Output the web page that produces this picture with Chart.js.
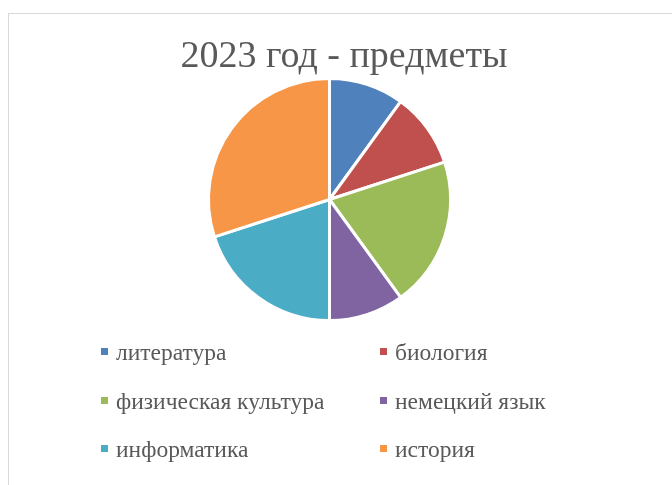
<!DOCTYPE html>
<html>
<head>
<meta charset="utf-8">
<script src="https://cdn.jsdelivr.net/npm/chart.js@4"></script>
<style>
  body { margin:0; background:#fff; width:672px; height:485px; overflow:hidden; position:relative; }
  #frame { position:absolute; left:8px; top:13px; right:-2px; bottom:-2px; border-left:1px solid #d9d9d9; border-top:1px solid #d9d9d9; }
  #chart { position:absolute; left:0; top:0; }
</style>
</head>
<body>
<div id="frame"></div>
<canvas id="chart" width="672" height="485"></canvas>
<script>
const chartTitle = "2023 год - предметы";
const subjects = ["литература", "биология", "физическая культура", "немецкий язык", "информатика", "история"];
const counts = [1, 1, 2, 1, 2, 3];
const colors = ["#4F81BD", "#C0504D", "#9BBB59", "#8064A2", "#4BACC6", "#F79646"];

const textColor = "#595959";
const serif = "'Liberation Serif', 'Times New Roman', serif";

// title + two-column legend, drawn on the canvas
const decor = {
  id: "decor",
  afterDraw(chart) {
    const ctx = chart.ctx;
    ctx.save();
    ctx.fillStyle = textColor;
    ctx.textAlign = "center";
    ctx.textBaseline = "alphabetic";
    ctx.font = "38px " + serif;
    ctx.fillText(chartTitle, 344, 67);

    ctx.textAlign = "left";
    ctx.font = "23.5px " + serif;
    chart.data.labels.forEach((s, i) => {
      const col = i % 2, row = Math.floor(i / 2);
      const x = col ? 395 : 116;
      const y = 360 + row * 48.5;
      ctx.fillStyle = chart.data.datasets[0].backgroundColor[i];
      ctx.fillRect(x - 15, Math.round(y - 12), 7, 7);
      ctx.fillStyle = textColor;
      ctx.fillText(s, x, y);
    });
    ctx.restore();
  }
};

new Chart(document.getElementById("chart"), {
  type: "pie",
  data: {
    labels: subjects,
    datasets: [{ data: counts, backgroundColor: colors, borderColor: "#fff", borderWidth: 3 }]
  },
  options: {
    responsive: false,
    animation: false,
    layout: { padding: { top: 77, bottom: 163, left: 207, right: 220 } },
    plugins: { legend: { display: false }, tooltip: { enabled: false } }
  },
  plugins: [decor]
});
</script>
</body>
</html>
